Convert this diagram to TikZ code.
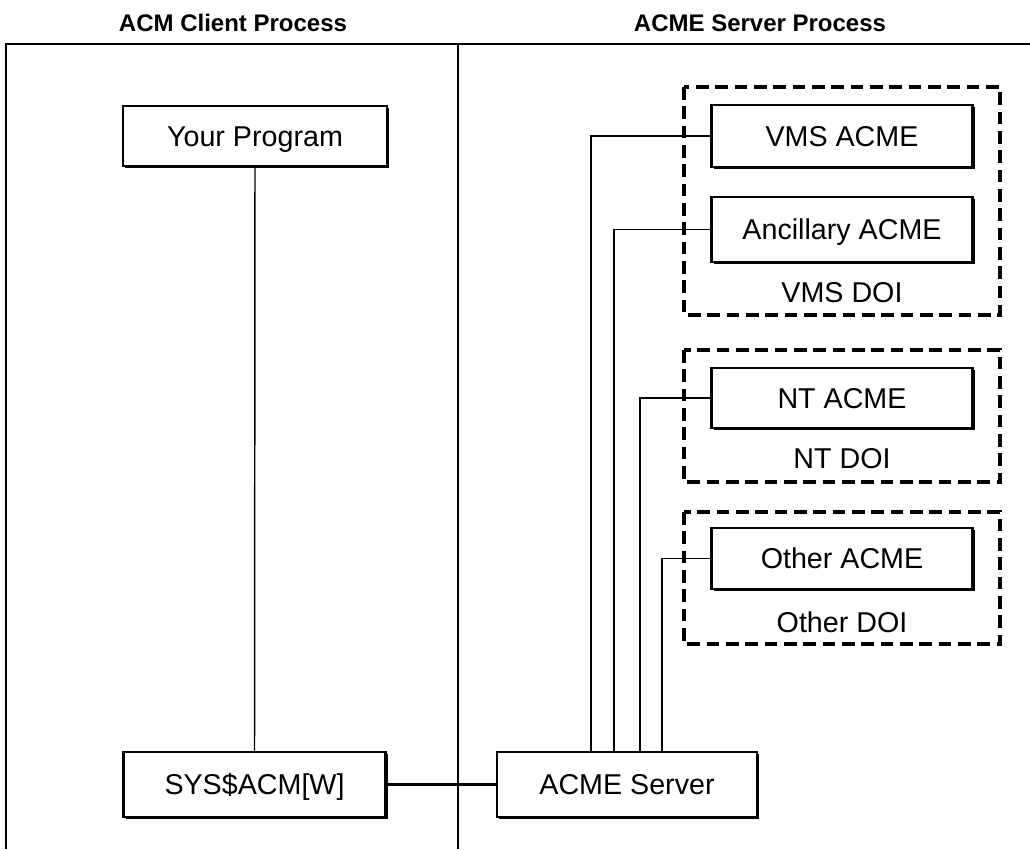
\documentclass[tikz,border=0pt]{standalone}
\usepackage{fontspec}
\setmainfont{Liberation Sans}
\usetikzlibrary{shadows}
\begin{document}
\begin{tikzpicture}[x=0.75pt,y=-0.75pt,
  boxtxt/.style={font=\fontsize{21.5}{24}\selectfont,text height=15.5pt,text depth=0pt},
  titletxt/.style={font=\bfseries\fontsize{18}{20}\selectfont},
  acmbox/.style={boxtxt,draw,line width=2.2pt,fill=white,inner sep=0pt,
     minimum width=196pt,
     drop shadow={shadow xshift=1.8pt,shadow yshift=-1.8pt,opacity=1,fill=black}},
  doibox/.style={draw,line width=2.6pt,dash pattern=on 9.5pt off 5pt},
  frameline/.style={line width=2pt},
  conn/.style={line width=1.1pt},
  bigconn/.style={line width=2.2pt}]
\useasboundingbox (0,0) rectangle (1030,849);

% titles
\node[titletxt] (t1) at (233,23) {ACM Client Process};
\node[titletxt] (t2) at (760,23) {ACME Server Process};

% frame
\draw[frameline] (6,849) -- (6,44) -- (1030,44);
\draw[frameline] (458,44) -- (458,849);

% dashed DOI boxes
\draw[doibox] (684,87) rectangle (1000,315);
\draw[doibox] (684,350) rectangle (1000,482);
\draw[doibox] (684,512) rectangle (1000,644);
\node[boxtxt] (vmsdoi) at (842,292) {VMS DOI};
\node[boxtxt] (ntdoi) at (842,458) {NT DOI};
\node[boxtxt] (othdoi) at (842,622) {Other DOI};

% client boxes
\node[acmbox,minimum width=198pt,minimum height=45pt] (prog) at (255,136) {Your Program};
\node[acmbox,minimum width=197pt,minimum height=48.75pt] (sys) at (254.5,784.5) {SYS\$ACM[W]};
\node[acmbox,minimum width=195pt,minimum height=48.75pt] (srv) at (627,784.5) {ACME Server};

% ACME boxes
\node[acmbox,minimum height=46.5pt] (vms) at (842,136) {VMS ACME};
\node[acmbox,minimum height=48.75pt] (anc) at (842,229.5) {Ancillary ACME};
\node[acmbox,minimum height=45pt] (nt) at (842,398) {NT ACME};
\node[acmbox,minimum height=45.75pt] (oth) at (842,558.5) {Other ACME};

% connectors
\coordinate (c1) at (591,0);
\coordinate (c2) at (614,0);
\coordinate (c3) at (640,0);
\coordinate (c4) at (662,0);
\draw[conn] (prog.south) -- (sys.north);
\draw[bigconn] (sys.east) -- (srv.west);
\draw[conn] (vms.west) -| (c1 |- srv.north);
\draw[conn] (anc.west) -| (c2 |- srv.north);
\draw[conn] (nt.west) -| (c3 |- srv.north);
\draw[conn] (oth.west) -| (c4 |- srv.north);
\end{tikzpicture}
\end{document}
